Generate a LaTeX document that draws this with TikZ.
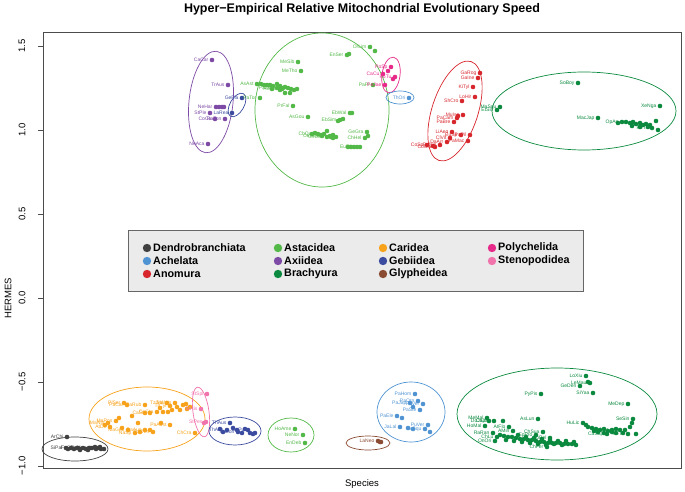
\documentclass[tikz,border=0pt]{standalone}
\usepackage{fontspec}
\setmainfont{Liberation Sans}
\definecolor{cDe}{HTML}{404040}
\definecolor{cAs}{HTML}{52B847}
\definecolor{cCa}{HTML}{F7A21B}
\definecolor{cPo}{HTML}{E7298A}
\definecolor{cAc}{HTML}{4F93D2}
\definecolor{cAx}{HTML}{7D4AA5}
\definecolor{cGe}{HTML}{3B4BA0}
\definecolor{cSt}{HTML}{F173AC}
\definecolor{cAn}{HTML}{D7262C}
\definecolor{cBr}{HTML}{0B8A3F}
\definecolor{cGl}{HTML}{8B4A32}
\definecolor{legfill}{HTML}{EBEBEB}
\tikzset{
  lab/.style={anchor=east,inner sep=0pt,font=\fontsize{5}{5}\selectfont},
  hull/.style={line width=0.7pt},
  tick/.style={font=\fontsize{9.5}{10}\selectfont,rotate=90},
  legtxt/.style={anchor=west,inner sep=0pt,font=\fontsize{10.8}{11}\selectfont\bfseries},
}
\newcommand\grpd[2]{\foreach \x/\y in {#2}{\fill[#1] (\x,\y) circle (2.3);}}
\newcommand\grpl[2]{\foreach \x/\y/\l in {#2}{\fill[#1] (\x,\y) circle (2.3); \node[lab,text=#1] at (\x-3.4,\y) {\l};}}
\newcommand\hullell[6]{\draw[hull,#1,rotate around={#6:(#2,#3)}] (#2,#3) ellipse [x radius=#4,y radius=#5];}
\newcommand\legent[4]{\fill[#1] (#2,#3) circle (4.2); \node[legtxt] at (#2+6,#3) {#4};}
\begin{document}
\begin{tikzpicture}[x=1pt,y=-1pt]
\useasboundingbox (0,0) rectangle (685,492);
% title
\node[font=\fontsize{12.5}{13}\selectfont\bfseries] (title) at (362,9) {Hyper−Empirical Relative Mitochondrial Evolutionary Speed};
% axes box
\draw[black!70,line width=0.8pt] (43,32) rectangle (681,468);
\foreach \v/\t in {1.5/1.5,1.0/1.0,0.5/0.5,0.0/0.0,-0.5/−0.5,-1.0/−1.0}{
  \draw[black!70] (38,298-168*\v) -- (43,298-168*\v);
  \node[tick] at (22,298-168*\v) {\t};
}
\node[font=\fontsize{9.5}{10}\selectfont,rotate=90] (ylab) at (8,298) {HERMES};
\node[font=\fontsize{9.5}{10}\selectfont] (xlab) at (362,484) {Species};

% ---------- hulls ----------
\hullell{cAx}{211}{102}{22}{51}{-6}
\hullell{cGe}{237}{105}{7}{13}{-30}
\hullell{cAs}{322}{110}{67}{77}{0}
\hullell{cPo}{391}{75}{9}{18}{-8}
\hullell{cAc}{400}{97.5}{14}{6.5}{0}
\hullell{cAn}{455}{111}{23}{52}{-18}
\hullell{cBr}{584}{111}{92}{39}{0}
\hullell{cDe}{75}{449}{33}{12}{0}
\hullell{cCa}{147}{419}{58}{32}{0}
\hullell{cSt}{201}{412}{8}{25}{8}
\hullell{cGe}{235}{431}{26}{14}{0}
\hullell{cAs}{291}{435}{23}{17}{0}
\hullell{cGl}{368}{443}{22}{7}{0}
\hullell{cAc}{411}{412}{34}{30}{0}
\hullell{cBr}{557}{414}{100}{46}{0}

% ---------- Axiidea ----------
\grpl{cAx}{212/60/CaCar,228/85/TrAus,216/107/NeHar,210/113/StPle,215/119/CoCa,225/119/RaTon,208/144/NeAca}
\grpd{cAx}{219/107,222/107,224/107}
% ---------- Gebiidea upper ----------
\grpl{cGe}{242/98/GeFla,232/113/LaRea}
% ---------- Astacidea upper ----------
\grpl{cAs}{370/47/OrLim,347/55/EnSer,298/62/MeSib,301/71/MeTho,257/84/AsAst,277/88/PaLen,282/89/RoSim,260/98/PaTor,293/106/PrFal,308/117/AsGou,350/113/EbWal,340/120/EbSim,318/134/ChQua,322/136/CeDes,327/137/ChDes,367/132/GeGra,365/138/ChHel,357/147/EuPla}
\grpd{cAs}{375/51,349/54,261/84,264/85,267/85,270/85,273/86,277/84,280/86,285/87,288/88,291/89,294/90,297/89,280/90,285/93,290/93,283/88,272/89,352/113,343/119,338/121,312/134,315/133,321/135,324/134,330/136,333/135,336/137,327/131,331/137,333/138,368/136,348/147,351/147,354/147,360/147,373/85}
\node[lab,text=cAs] at (369.6,85) {PaPl};
% ---------- Polychelida ----------
\grpl{cPo}{391/67/PoSp,383/74/CaCu,395/77/PoTu,385/85/PeJae}
\grpd{cPo}{388/71,393/79}
% ---------- Achelata upper ----------
\grpl{cAc}{409/98/ThOri}
% ---------- Anomura ----------
\grpl{cAn}{480/73/GaRog,478/78/GaIne,473/87/KiTyl,475/97/LoHir,462/101/ShCro,463/115/MuIso,457/118/PaCam,454/122/PaBre,452/132/LiAeq,461/135/EuSp,470/135/PaPil,450/138/ClVit,468/141/PaMac,447/142/DaArr,440/145/PaNie,435/147/CoCla,427/145/CoSp}
\grpd{cAn}{458/116,433/146}
% ---------- Brachyura upper ----------
\grpl{cBr}{500/107/MaSqu,497/110/EtSin,578/83/SoBoy,598/118/MacJap,660/106/XeNga,622/122/OpAn,650/125/MaSan,652/128/PoTri}
\grpd{cBr}{618/123,626/122,630/123,633/122,636/124,640/123,643/125,646/124,656/121,658/130,648/127,640/127,632/126}

% ---------- Dendrobranchiata ----------
\grpl{cDe}{67/437/ArChi,66/448/SiPal,78/448/FeChi,90/448/PeMon}
\grpd{cDe}{68/449,71/448,74/449,77/448,80/449,83/448,86/449,89/448,92/448,95/447,98/448,101/449,104/449,80/450,88/450,96/449,100/447}
% ---------- Caridea ----------
\grpl{cCa}{124/403/PlSer,127/405/PaCar,145/405/PaRub,167/403/TzGal,170/406/TrCyl,175/403/MaNip,157/412/CaGta,150/413/CaSta,116/421/MaRos,108/423/MaNip,110/427/AtDe,128/430/MaGec,135/433/NaSp,145/430/PaAus,153/432/CaDen,170/425/PaAust,195/433/ChCra}
\grpd{cCa}{177/407,172/410,180/410,187/409,186/404,160/408,163/412,168/412,145/413,132/416,119/418,105/425,122/428,140/432,150/430,138/423,161/423,183/405,190/407}
% ---------- Stenopodidea ----------
\grpl{cSt}{207/394/StSpi,201/409/StHis,206/422/StPes}
\grpd{cSt}{204/423}
% ---------- Gebiidea lower ----------
\grpl{cGe}{230/423/ThAus,227/430/ThAcu,238/432/AuLon,248/430/UpPu}
\grpd{cGe}{233/428,237/430,245/429,250/433,253/434,255/433,223/432,242/433,220/429}
% ---------- Astacidea lower ----------
\grpl{cAs}{295/429/HoAme,303/435/NeNor,305/443/EnDeb}
% ---------- Glypheidea ----------
\grpl{cGl}{378/441/LaNeo}
\grpd{cGl}{380/442,381/442}
% ---------- Achelata lower ----------
\grpl{cAc}{415/394/PaHom,418/401/PaOrn,423/404/PaVer,410/403/PaJap,420/410/PaSte,397/416/PaEle,428/425/PuVer,400/427/JaLal,425/429/ScSqu}
\grpd{cAc}{413/407,402/418,430/432,408/428,413/429}
% ---------- Brachyura lower ----------
\grpl{cBr}{586/376/LoXiu,590/383/LeMau,580/386/GeDen,593/393/SiYaa,541/394/PyPis,628/404/MeDep,538/419/AsLun,633/419/SeSin,583/423/HuLic,487/418/MeMal,489/421/DoJap,494/421/ChJap,485/426/HoMal,509/427/AtFlo,513/431/AMin,493/433/RaRan,497/437/ChLu,495/441/OnOri,543/432/ChSua,536/435/EpPro,550/438/PoPel,547/447/ChFer,607/434/CaSap,628/434/PoTri,612/430/UcMor}
\grpd{cBr}{588/382,503/421,500/435,504/436,508/437,512/437,516/438,520/439,524/439,528/440,532/440,536/441,540/442,544/442,548/443,552/443,556/443,560/443,564/444,568/444,572/444,576/445,506/440,514/441,522/442,530/443,538/444,546/445,554/444,562/445,518/435,526/437,534/438,542/439,550/440,558/441,566/441,574/442,632/423,630/427,636/434,625/430,616/433,623/433,588/427,592/428,596/429,600/430,604/429,608/431,612/432,616/429,620/430,598/432,594/431,586/425,604/433}

% ---------- legend ----------
\draw[black!60,fill=legfill,line width=0.7pt] (128,230) rectangle (583,291);
\legent{cDe}{147}{248}{Dendrobranchiata}
\legent{cAc}{147}{261}{Achelata}
\legent{cAn}{147}{274}{Anomura}
\legent{cAs}{278}{248}{Astacidea}
\legent{cAx}{278}{261}{Axiidea}
\legent{cBr}{278}{274}{Brachyura}
\legent{cCa}{383}{248}{Caridea}
\legent{cGe}{383}{261}{Gebiidea}
\legent{cGl}{383}{274}{Glypheidea}
\legent{cPo}{492}{248}{Polychelida}
\legent{cSt}{492}{261}{Stenopodidea}
\end{tikzpicture}
\end{document}
